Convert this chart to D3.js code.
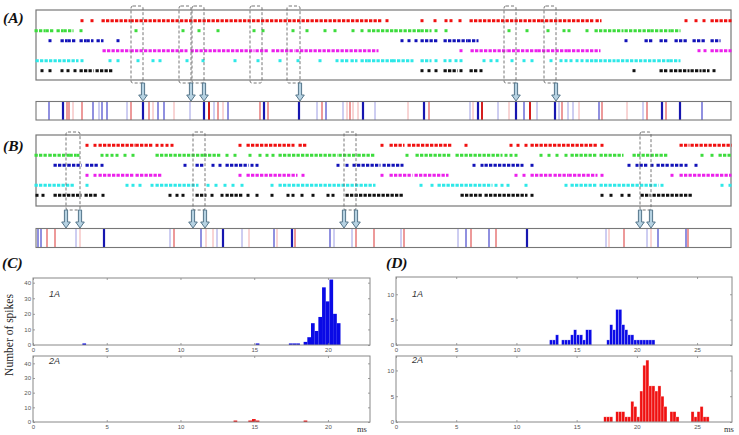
<!DOCTYPE html>
<html><head><meta charset="utf-8">
<script src="https://cdn.jsdelivr.net/npm/d3@7"></script>
<style>body{margin:0;background:#fff}svg{display:block}</style>
</head><body>
<script>
// ---------- DATA ----------
const rowNames = ["red","green","blue","magenta","cyan","black"];
// raster A (number = single spike, [start,end] = dense burst); time units
const aRed = [46,56,[67,93],[96,345],351,386,399,410,415,424,[435,503],[506,548],[551,556],[561,564],650,660,668,[676,694]];
const aGreen = [[0,8],[11,17],[22,26],[29,36],45,100,147,163,182,218,227,257,271,289,299,317,326,[333,358],[360,383],[386,394],400,410,473,491,512,528,533,551,[560,586],[590,613],[616,633],[636,643]];
const aBlue = [14,[26,30],[33,39],[45,49],[52,56],[62,66],82,366,373,380,[386,392],[395,401],[409,430],[433,441],590,[610,616],[625,631],[640,650],[658,668],[676,683]];
const aMagenta = [[68,93],[96,150],[156,217],[221,231],[237,257],[261,341],425,[436,470],[473,500],[503,530],[533,563],663,669,[676,694]];
const aCyan = [[1,41],46,74,82,102,117,124,151,167,199,222,244,262,284,301,[306,311],[316,320],[326,330],[333,356],[358,376],[386,394],400,409,414,420,425,448,455,461,476,488,496,515,525,530,535,541,546,[551,558],[560,578],[582,620],[623,632],[635,643]];
const aBlack = [6,14,26,32,39,[45,56],[61,76],386,393,400,[409,420],425,[435,440],445,598,[625,630],[635,640],[644,652],[656,664],[668,672],678];
// raster B
const bRed = [51,59,[64,98],[101,116],121,126,131,136,204,[212,257],[264,269],346,[355,367],[373,415],430,475,482,490,[496,560],566,[645,652],[656,694]];
const bGreen = [[0,11],[14,33],[35,39],42,66,71,76,81,89,97,[121,154],[157,166],[169,184],191,199,214,224,231,237,[244,300],[304,320],[323,338],371,[381,413],[421,445],[448,465],470,475,480,505,513,521,530,[536,560],[565,586],[598,630],666,676,[684,694]];
const bBlue = [[19,30],[33,44],[51,61],66,149,[161,167],177,184,[191,211],216,221,302,311,[318,343],[348,366],438,446,[450,483],486,496,593,601,[605,610],616,[622,632],[636,646],650,660];
const bMagenta = [51,59,[64,97],[101,124],204,[212,260],267,346,[355,375],[380,411],480,488,[496,515],[519,531],[534,560],566,636,[645,694]];
const bCyan = [[0,37],51,91,97,104,116,[121,161],172,180,189,197,206,236,[244,338],385,396,[403,445],[448,455],460,466,472,490,530,[536,560],[565,621],626,686,694];
const bBlack = [1,7,[19,44],[50,60],67,134,141,147,[161,169],176,186,[191,206],212,221,236,252,257,266,277,292,297,[311,366],[426,445],[450,490],496,566,575,586,593,[606,613],[618,655]];
// coincidence barcodes: [time, level]
const aBarBlue = [[13,2],[27,3],[57,2],[63,1],[66,2],[71,2],[91,1],[107,3],[122,2],[128,2],[154,1],[168,3],[178,1],[192,2],[228,3],[263,3],[281,1],[290,2],[307,1],[327,3],[339,1],[388,3],[434,1],[442,3],[462,1],[480,3],[488,2],[501,1],[519,3],[523,1],[532,1],[537,1],[563,2],[607,1],[626,3],[644,3],[666,2]];
const aBarRed = [[31,2],[33,2],[37,1],[46,2],[95,2],[113,2],[117,1],[138,1],[173,3],[182,2],[187,1],[224,2],[232,2],[286,2],[311,1],[314,2],[317,1],[322,1],[372,1],[393,2],[437,1],[446,3],[473,1],[494,3],[526,2],[543,1],[566,2],[591,1],[611,2],[630,2]];
const bBarBlue = [[2,2],[5,2],[40,1],[68,3],[134,1],[165,2],[181,1],[187,3],[206,1],[238,2],[256,3],[294,2],[298,1],[316,1],[365,1],[422,1],[430,2],[453,2],[491,3],[570,1],[611,1],[622,2],[650,2]];
const bBarRed = [[11,2],[19,2],[44,1],[138,2],[170,1],[177,1],[213,1],[241,1],[259,2],[320,2],[338,2],[368,2],[435,2],[460,2],[573,1],[588,2],[615,1],[652,2]];
// selected windows [start,end]
const aWindows = [[95,107],[143,155],[156,168],[214,226],[251,264],[468,480],[508,520]];
const aArrows = [107,155,168,264,480,520];
const bWindows = [[30,44],[157,169],[308,320],[604,615]];
const bArrows = [30,44,157,169,308,320,604,615];
// histograms: [bin start (ms), count], bin width 0.25 ms
const binWidth = 0.25;
const c1A = [[3.35,1],[15.1,1],[17.35,1],[17.6,1],[17.85,1],[18.35,2],[18.6,5],[18.85,14],[19.1,9],[19.35,18],[19.6,37],[19.85,28],[20.1,42],[20.35,20],[20.6,14]];
const c2A = [[13.6,1],[14.6,1],[14.85,2],[15.1,1],[18.35,1]];
const d1A = [[12.75,1],[13.0,1],[13.25,2],[13.75,1],[14.0,1],[14.25,1],[14.5,2],[14.75,3],[15.0,2],[15.25,2],[15.5,1],[15.75,3],[16.0,3],[17.5,1],[17.75,4],[18.0,3],[18.25,7],[18.5,7],[18.75,4],[19.0,3],[19.25,2],[19.5,2],[19.75,1],[20.0,1],[20.25,1],[20.5,1],[20.75,1],[21.0,1],[21.25,1]];
const d2A = [[17.25,1],[17.5,1],[17.75,1],[18.25,2],[18.5,2],[18.75,2],[19.0,1],[19.25,1],[19.5,4],[19.75,3],[20.0,1],[20.25,6],[20.5,11],[20.75,12],[21.0,7],[21.25,7],[21.5,6],[21.75,7],[22.0,5],[22.25,3],[22.75,2],[23.0,2],[23.25,1],[24.5,2],[24.75,1],[25.0,2],[25.25,3],[25.5,1],[25.75,1]];
const cXTicks = [0,5,10,15,20];
const dXTicks = [0,5,10,15,20,25];
const cYTicks = [0,10,20,30,40];
const dYTicks = [0,5,10];

// ---------- DRAW ----------
const svg = d3.select("body").append("svg").attr("width",739).attr("height",435);
const rowColors = {red:"#f01010",green:"#3ddc3d",blue:"#1212b8",magenta:"#ec20ec",cyan:"#2ee8e8",black:"#111"};
const tx = d3.scaleLinear().domain([0,695]).range([36,731]);

function panelLabel(t,x,y){
  svg.append("text").attr("x",x).attr("y",y).text(t)
    .attr("font-family","Liberation Serif, serif").attr("font-weight","bold")
    .attr("font-style","italic").attr("font-size",15.5).attr("fill","#111");
}

function raster(rows, top, bottom, yr){
  svg.append("rect").attr("x",tx(0)).attr("y",top).attr("width",tx(695)-tx(0)).attr("height",bottom-top)
    .attr("fill","none").attr("stroke","#777").attr("stroke-width",1.2);
  const y = d3.scalePoint().domain(rowNames).range(yr);
  rows.forEach((row,i)=>{
    const name = rowNames[i], c = rowColors[name];
    const g = svg.append("g");
    g.selectAll("line").data(row.filter(d=>Array.isArray(d))).join("line")
      .attr("x1",d=>tx(d[0])-1.5).attr("x2",d=>tx(d[1])+1.5)
      .attr("y1",y(name)).attr("y2",y(name))
      .attr("stroke",c).attr("stroke-width",3).attr("stroke-dasharray","3.3,1.2");
    g.selectAll("rect").data(row.filter(d=>!Array.isArray(d))).join("rect")
      .attr("x",d=>tx(d)-1.5).attr("y",y(name)-1.5).attr("width",3).attr("height",3).attr("fill",c);
  });
}

const blueStyle = {1:["#9c9ce4",1],2:["#4646cc",1.2],3:["#1616b0",2.2]};
const redStyle = {1:["#f2aaaa",1],2:["#e46464",1.3],3:["#d41e1e",2]};
function barcode(blue, red, top, bottom){
  const g = svg.append("g");
  g.selectAll("line.r").data(red).join("line").attr("class","r")
    .attr("x1",d=>tx(d[0])).attr("x2",d=>tx(d[0])).attr("y1",top).attr("y2",bottom)
    .attr("stroke",d=>redStyle[d[1]][0]).attr("stroke-width",d=>redStyle[d[1]][1]);
  g.selectAll("line.b").data(blue).join("line").attr("class","b")
    .attr("x1",d=>tx(d[0])).attr("x2",d=>tx(d[0])).attr("y1",top).attr("y2",bottom)
    .attr("stroke",d=>blueStyle[d[1]][0]).attr("stroke-width",d=>blueStyle[d[1]][1]);
  svg.append("rect").attr("x",tx(0)).attr("y",top).attr("width",tx(695)-tx(0)).attr("height",bottom-top)
    .attr("fill","none").attr("stroke","#777").attr("stroke-width",1.1);
}

function windows(wins, top, bottom){
  svg.append("g").selectAll("rect").data(wins).join("rect")
    .attr("x",d=>tx(d[0])).attr("y",top).attr("width",d=>tx(d[1])-tx(d[0])).attr("height",bottom-top)
    .attr("rx",2).attr("fill","none").attr("stroke","#666").attr("stroke-width",0.9).attr("stroke-dasharray","3,2");
}

function arrows(list, y0, y1){
  svg.append("g").selectAll("path").data(list).join("path")
    .attr("d",d=>{const x=tx(d), hw=1.6, aw=4.3, hl=6;
      return `M${x-hw},${y0}L${x+hw},${y0}L${x+hw},${y1-hl}L${x+aw},${y1-hl}L${x},${y1}L${x-aw},${y1-hl}L${x-hw},${y1-hl}Z`;})
    .attr("fill","#b6d2e2").attr("stroke","#56768a").attr("stroke-width",1);
}

panelLabel("(A)",3,23);
raster([aRed,aGreen,aBlue,aMagenta,aCyan,aBlack],10,80,[20.7,70.7]);
windows(aWindows,6,83);
arrows(aArrows,83,101);
barcode(aBarBlue,aBarRed,101.5,120);

panelLabel("(B)",3,151);
raster([bRed,bGreen,bBlue,bMagenta,bCyan,bBlack],135,206,[145.3,195.3]);
windows(bWindows,132,210);
arrows(bArrows,210,228);
barcode(bBarBlue,bBarRed,228.5,247.5);

function hist(data,color,xd,xr,yd,yr,xt,yt,label,labY,edge){
  const x = d3.scaleLinear().domain(xd).range(xr);
  const y = d3.scaleLinear().domain(yd).range(yr);
  const g = svg.append("g");
  g.selectAll("rect").data(data).join("rect")
    .attr("x",d=>x(d[0])).attr("width",d=>x(d[0]+binWidth)-x(d[0]))
    .attr("y",d=>y(d[1])).attr("height",d=>y(0)-y(d[1]))
    .attr("fill",color).attr("stroke",edge?"rgba(255,255,255,0.55)":"none").attr("stroke-width",0.5);
  const style = s=>{s.select(".domain").remove();
    s.selectAll("line").attr("stroke","#777").attr("stroke-width",0.7);
    s.selectAll("text").attr("font-family","Liberation Sans, Arial, sans-serif").attr("font-size",6).attr("fill","#555");};
  g.append("g").attr("transform",`translate(0,${yr[0]})`).call(d3.axisBottom(x).tickValues(xt).tickSize(-2).tickPadding(3)).call(style);
  g.append("g").attr("transform",`translate(0,${yr[1]})`).call(d3.axisTop(x).tickValues(xt).tickSize(-2).tickFormat("")).call(style);
  g.append("g").attr("transform",`translate(${xr[0]},0)`).call(d3.axisLeft(y).tickValues(yt).tickSize(-2).tickPadding(2)).call(style);
  g.append("g").attr("transform",`translate(${xr[1]},0)`).call(d3.axisRight(y).tickValues(yt).tickSize(-2).tickFormat("")).call(style);
  g.append("rect").attr("x",xr[0]).attr("y",yr[1]).attr("width",xr[1]-xr[0]).attr("height",yr[0]-yr[1])
    .attr("fill","none").attr("stroke","#888").attr("stroke-width",1);
  g.append("text").attr("x",xr[0]+16).attr("y",labY).text(label)
    .attr("font-family","Liberation Sans, Arial, sans-serif").attr("font-style","italic").attr("font-size",9).attr("fill","#333");
}

panelLabel("(C)",2,268);
panelLabel("(D)",386,268);
hist(c1A,"#0a0ae6",[0,22.85],[33,370],[0,43],[345,278],cXTicks,cYTicks,"1A",297,false);
hist(c2A,"#f01010",[0,22.85],[33,370],[0,45],[422,356],cXTicks,cYTicks,"2A",364,false);
hist(d1A,"#0a0ae6",[0,27.9],[396,732],[0,13.4],[345,277],dXTicks,dYTicks,"1A",297,true);
hist(d2A,"#f01010",[0,27.9],[396,732],[0,12.8],[422,356],dXTicks,dYTicks,"2A",363,true);

svg.append("text").attr("transform","translate(13,335) rotate(-90)").attr("text-anchor","middle")
  .text("Number of spikes").attr("font-family","Liberation Serif, serif").attr("font-size",11.5).attr("fill","#222");
svg.append("text").attr("x",357).attr("y",432).text("ms").attr("font-family","Liberation Serif, serif").attr("font-size",8.5).attr("fill","#333");
svg.append("text").attr("x",724).attr("y",432).text("ms").attr("font-family","Liberation Serif, serif").attr("font-size",8.5).attr("fill","#333");
</script>
</body></html>
